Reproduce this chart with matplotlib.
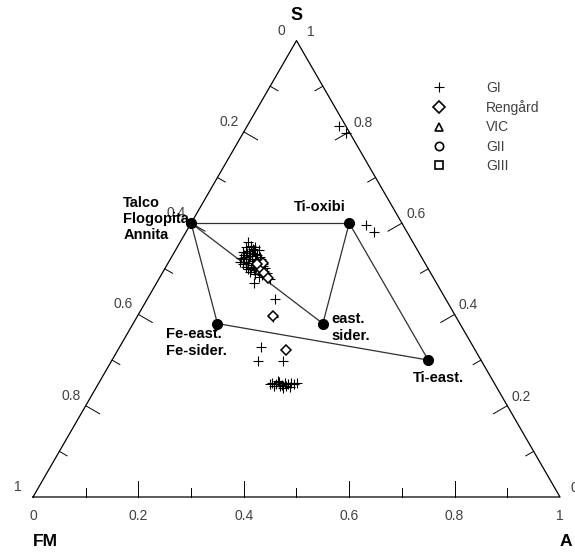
import numpy as np
import matplotlib.pyplot as plt

plt.rcParams['font.family'] = ['Liberation Sans', 'DejaVu Sans']

# ternary compositions as (A, S) fractions; FM = 1 - A - S
gi_a = [0.175, 0.195, 0.334, 0.357, 0.185, 0.242, 0.258, 0.268, 0.278, 0.325,
        0.129, 0.130, 0.139, 0.130, 0.140, 0.148, 0.133, 0.141, 0.152, 0.160,
        0.171, 0.141, 0.152, 0.158, 0.170, 0.181, 0.152, 0.163, 0.171, 0.182,
        0.189, 0.165, 0.177, 0.192, 0.135, 0.162, 0.149, 0.163, 0.176, 0.199,
        0.158, 0.148, 0.136, 0.139, 0.139, 0.147, 0.149, 0.165, 0.177, 0.158,
        0.170, 0.190, 0.188, 0.211, 0.144, 0.155, 0.167, 0.146, 0.173, 0.184,
        0.329, 0.337, 0.341, 0.350, 0.353, 0.360, 0.365, 0.372, 0.336, 0.347,
        0.359, 0.338, 0.326, 0.376, 0.355, 0.367]
gi_s = [0.813, 0.798, 0.596, 0.581, 0.469, 0.434, 0.394, 0.329, 0.298, 0.298,
        0.559, 0.548, 0.550, 0.537, 0.539, 0.541, 0.524, 0.526, 0.528, 0.530,
        0.522, 0.515, 0.513, 0.517, 0.515, 0.511, 0.504, 0.502, 0.504, 0.497,
        0.502, 0.493, 0.489, 0.486, 0.530, 0.522, 0.522, 0.508, 0.502, 0.491,
        0.541, 0.528, 0.515, 0.522, 0.535, 0.548, 0.535, 0.519, 0.515, 0.500,
        0.497, 0.495, 0.482, 0.478, 0.510, 0.533, 0.526, 0.544, 0.509, 0.506,
        0.250, 0.248, 0.252, 0.245, 0.250, 0.248, 0.250, 0.248, 0.243, 0.243,
        0.243, 0.254, 0.248, 0.250, 0.239, 0.241]

ren_a = [0.319, 0.257, 0.180, 0.193, 0.206, 0.180, 0.170]
ren_s = [0.322, 0.397, 0.502, 0.491, 0.480, 0.513, 0.511]

# end members of the mica / oxide field
em_names = ['Talco\nFlogopita\nAnnita', 'Ti-oxibi', 'Fe-east.\nFe-sider.',
            'east.\nsider.', 'Ti-east.']
em_a = [0.00, 0.30, 0.16, 0.36, 0.60]
em_s = [0.60, 0.60, 0.38, 0.38, 0.30]
tie_lines = [(0, 1), (1, 4), (4, 2), (2, 0), (0, 3), (1, 3)]

legend_labels = ['GI', 'Rengård', 'VIC', 'GII', 'GIII']
legend_markers = ['+', 'D', '^', 'o', 's']

PX = 1 / 527.0   # one pixel in triangle units
R3 = np.sqrt(3) / 2


def tern(a, s):
    a = np.asarray(a, dtype=float)
    s = np.asarray(s, dtype=float)
    return a + s / 2, s * R3


fig = plt.figure(figsize=(5.75, 5.55), dpi=100)
ax = fig.add_axes([0, 0, 1, 1])
ax.set_xlim(-33 * PX, 542 * PX)
ax.set_ylim(-58 * PX, 497 * PX)
ax.axis('off')

# frame
ax.plot([0, 1, 0.5, 0], [0, 0, R3, 0], color='black', lw=0.9)

# ticks and tick labels
tcol = '#404040'
c30, s30 = np.cos(np.pi / 6), np.sin(np.pi / 6)
for i in range(11):
    v = i / 10
    major = i % 2 == 0
    ln = (16 if major else 9) * PX
    lx, ly = tern(0, 1 - v)
    rx, ry = tern(1 - v, v)
    if 0 < i < 10:
        # bottom axis (A), left edge (FM), right edge (S)
        ax.plot([v, v], [0, ln], color='black', lw=0.7)
        ax.plot([lx, lx + ln * c30], [ly, ly - ln * s30], color='black', lw=0.7)
        ax.plot([rx, rx - ln * c30], [ry, ry - ln * s30], color='black', lw=0.7)
    if major:
        lab = '%g' % v
        ax.text(v, -19 * PX, lab, ha='center', va='center', fontsize=10, color=tcol)
        ax.text(lx - 15 * PX, ly + 10 * PX, lab, ha='center', va='center',
                fontsize=10, color=tcol)
        ax.text(rx + 14 * PX, ry + 9 * PX, lab, ha='center', va='center',
                fontsize=10, color=tcol)

# apex labels
ax.text(0.5, R3 + 25 * PX, 'S', ha='center', va='center', fontsize=13, fontweight='bold')
ax.text(0, -44 * PX, 'FM', ha='left', va='center', fontsize=12.5, fontweight='bold')
ax.text(1, -44 * PX, 'A', ha='left', va='center', fontsize=12.5, fontweight='bold')

# tie lines between end members
ex, ey = tern(em_a, em_s)
for p, q in tie_lines:
    ax.plot([ex[p], ex[q]], [ey[p], ey[q]], color='#303030', lw=0.9)
ax.plot(ex, ey, 'o', color='black', ms=7, zorder=5)

em_offsets = [(-2, 4, 'right'), (-4, 16, 'right'), (-51, -19, 'left'),
              (9, -4, 'left'), (-15, -18, 'left')]
for k, name in enumerate(em_names):
    dx, dy, ha = em_offsets[k]
    ax.annotate(name, (ex[k], ey[k]), xytext=(dx * 0.72, dy * 0.72),
                textcoords='offset points', ha=ha, va='center',
                multialignment='left', fontsize=10.5, fontweight='bold',
                linespacing=1.2)

# samples
gx, gy = tern(gi_a, gi_s)
ax.plot(gx, gy, '+', color='black', ms=7.5, mew=0.8, zorder=4)
rx_, ry_ = tern(ren_a, ren_s)
ax.plot(rx_, ry_, 'D', mfc='white', mec='black', ms=5.5, mew=1.1, zorder=4)

# legend
handles = [plt.Line2D([], [], ls='none', marker=m, color='black', mfc='none',
                      ms=6 if m != '+' else 7, mew=1.2 if m != '+' else 0.8)
           for m in legend_markers]
ax.legend(handles, legend_labels, loc='upper left',
          bbox_to_anchor=(425 / 575, 1 - 74 / 555), frameon=False,
          fontsize=10, handletextpad=2.9, labelspacing=0.38,
          handlelength=1.0, borderpad=0, labelcolor=tcol)

fig.savefig('out.png', dpi=100)
